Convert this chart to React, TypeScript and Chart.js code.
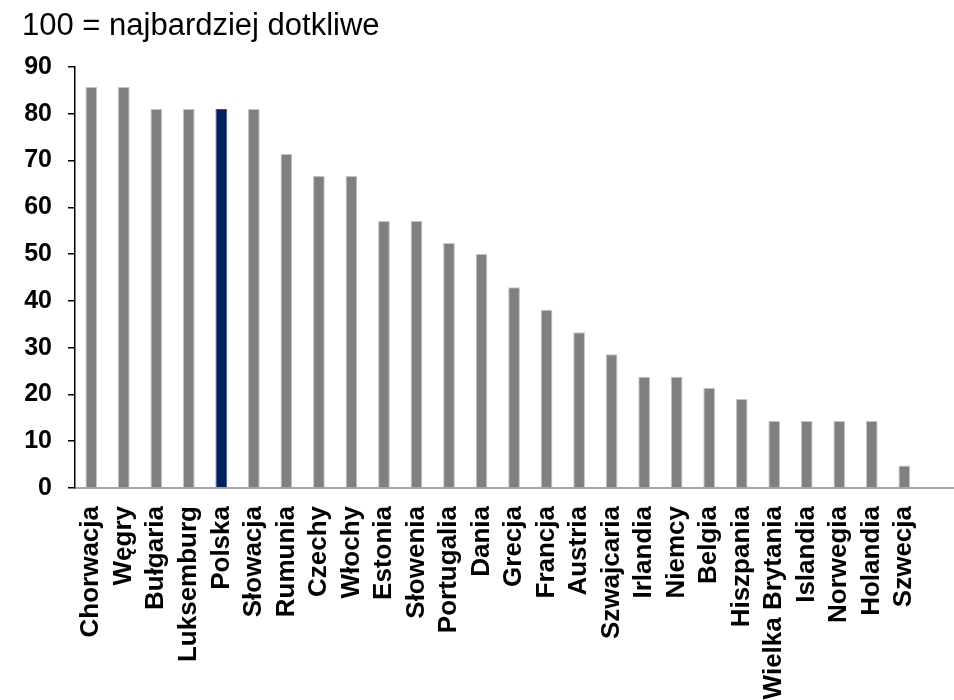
import React, { useEffect, useRef } from "react";
import { Chart, registerables } from "chart.js";

Chart.register(...registerables);

// Ranking of countries (100 = most severe)
const countries = [
  "Chorwacja", "Węgry", "Bułgaria", "Luksemburg", "Polska", "Słowacja",
  "Rumunia", "Czechy", "Włochy", "Estonia", "Słowenia", "Portugalia",
  "Dania", "Grecja", "Francja", "Austria", "Szwajcaria", "Irlandia",
  "Niemcy", "Belgia", "Hiszpania", "Wielka Brytania", "Islandia",
  "Norwegia", "Holandia", "Szwecja",
];
const scores = [
  85.7, 85.7, 81.0, 81.0, 81.0, 81.0,
  71.4, 66.7, 66.7, 57.1, 57.1, 52.4,
  50.0, 42.9, 38.1, 33.3, 28.6, 23.8,
  23.8, 21.4, 19.0, 14.3, 14.3,
  14.3, 14.3, 4.8,
];
const highlighted = "Polska";
const yMin = 0;
const yMax = 90;
const yStep = 10;
const heading = "100 = najbardziej dotkliwe";

const FONT = '"Liberation Sans", Arial, sans-serif';
const GREY = "#808080";
const NAVY = "#002060";

export default function App() {
  const canvasRef = useRef<HTMLCanvasElement | null>(null);

  useEffect(() => {
    if (!canvasRef.current) return;

    const headingPlugin = {
      id: "headingAndBaseline",
      afterDraw(chart: any) {
        const { ctx, chartArea, width } = chart;
        ctx.save();
        // heading text above the plot
        ctx.font = `31px ${FONT}`;
        ctx.fillStyle = "#000";
        ctx.textBaseline = "alphabetic";
        ctx.textAlign = "left";
        ctx.fillText(heading, 22, 35);
        // category axis line continues to the right edge
        const y = chart.scales.y.getPixelForValue(0);
        ctx.strokeStyle = "#a6a6a6";
        ctx.lineWidth = 2;
        ctx.beginPath();
        ctx.moveTo(chartArea.right, y);
        ctx.lineTo(width, y);
        ctx.stroke();
        ctx.restore();
      },
    };

    const chart = new Chart(canvasRef.current, {
      type: "bar",
      data: {
        labels: countries,
        datasets: [
          {
            data: scores,
            backgroundColor: countries.map((c) => (c === highlighted ? NAVY : GREY)),
            borderColor: countries.map((c) => (c === highlighted ? "#3a4f86" : "#c4c4c4")),
            borderWidth: 1,
            barPercentage: 0.36,
            categoryPercentage: 1,
          },
        ],
      },
      options: {
        animation: false,
        responsive: true,
        maintainAspectRatio: false,
        layout: { padding: { top: 67, right: 25, left: 0, bottom: 0 } },
        plugins: {
          legend: { display: false },
          tooltip: { enabled: false },
          title: { display: false },
        },
        scales: {
          x: {
            grid: { display: false, drawTicks: false },
            border: { display: true, color: "#a6a6a6", width: 2 },
            ticks: {
              color: "#000",
              font: { family: FONT, size: 26, weight: "bold" },
              maxRotation: 90,
              minRotation: 90,
              autoSkip: false,
              padding: 18,
            },
            afterFit: (scale: any) => {
              scale.height = 212;
            },
          },
          y: {
            min: yMin,
            max: yMax,
            ticks: {
              stepSize: yStep,
              color: "#000",
              font: { family: FONT, size: 25, weight: "bold" },
              padding: 16,
            },
            grid: {
              display: true,
              drawOnChartArea: false,
              drawTicks: true,
              tickLength: 7,
              color: "#000",
              lineWidth: 1.5,
            },
            border: { display: true, color: "#000", width: 1.5 },
            afterFit: (scale: any) => {
              scale.width = 75;
            },
          },
        },
      },
      plugins: [headingPlugin],
    });

    return () => chart.destroy();
  }, []);

  return (
    <div style={{ position: "fixed", left: 0, top: 0, width: 954, height: 700, background: "#fff" }}>
      <canvas ref={canvasRef} />
    </div>
  );
}
